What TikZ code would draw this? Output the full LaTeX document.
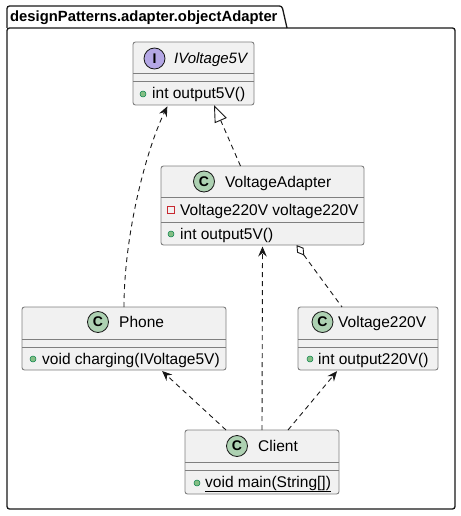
\documentclass[tikz,border=0pt]{standalone}
\usepackage{fontspec}
\setmainfont{Liberation Sans}
\usetikzlibrary{arrows.meta}
\definecolor{boxfill}{HTML}{F1F1F1}
\definecolor{boxline}{HTML}{7F7F7F}
\definecolor{spotC}{HTML}{ADD1B2}
\definecolor{spotI}{HTML}{B4A7E5}
\definecolor{pubfill}{HTML}{84BE84}
\definecolor{publine}{HTML}{038048}
\definecolor{privline}{HTML}{C82930}
\definecolor{edge}{HTML}{181818}
\begin{document}
\begin{tikzpicture}[x=1pt,y=-1pt,
  classbox/.style={draw=boxline, fill=boxfill, rounded corners=2.5, line width=0.9, anchor=north west, inner sep=0, outer sep=0},
  sepline/.style={draw=boxline, line width=0.9},
  spot/.style={circle, draw=edge, line width=0.8, minimum size=21, inner sep=0, font=\fontsize{14}{14}\selectfont\bfseries},
  pub/.style={circle, fill=pubfill, draw=publine, line width=0.5, minimum size=6, inner sep=0},
  priv/.style={rectangle, draw=privline, line width=0.9, minimum size=6.5, inner sep=0},
  lbl/.style={anchor=base west, inner sep=0, font=\fontsize{15.5}{15.5}\selectfont},
  dep/.style={draw=edge, line width=0.9, dash pattern=on 5 off 4},
  barb/.style={-{Stealth[length=10,width=8.5,inset=3.5]}, shorten >=1.5}
]
\useasboundingbox (0,0) rectangle (460,516);
% package
\draw[edge, line width=1.3, rounded corners=2.5] (7,28) -- (7,6) -- (282,6) -- (287,28);
\draw[edge, line width=1.3, rounded corners=2.5] (7,28) -- (455,28) -- (455,509) -- (7,509) -- cycle;
\node (pkg) [anchor=base west, inner sep=0, font=\fontsize{14.8}{15}\selectfont\bfseries] at (10,21.5) {designPatterns.adapter.objectAdapter};

% IVoltage5V
\node (iv) [classbox, minimum width=121, minimum height=63] at (133,42) {};
\draw[sepline] (133,73) -- (254,73);
\draw[sepline] (133,81) -- (254,81);
\node (ivspot) [spot, fill=spotI] at (154.5,58.5) {I};
\node (ivname) [lbl, font=\fontsize{15}{15}\selectfont\itshape] at (174,64) {IVoltage5V};
\node (ivdot) [pub] at (143,94) {};
\node (ivm) [lbl] at (152,99) {int output5V()};

% VoltageAdapter
\node (va) [classbox, minimum width=203, minimum height=79] at (161,166) {};
\draw[sepline] (161,197) -- (364,197);
\draw[sepline] (161,222) -- (364,222);
\node (vaspot) [spot, fill=spotC] at (204,181.5) {C};
\node (vaname) [lbl] at (225,187) {VoltageAdapter};
\node (vasq) [priv] at (171,210) {};
\node (vaf) [lbl] at (180,215) {Voltage220V voltage220V};
\node (vadot) [pub] at (171,234) {};
\node (vam) [lbl] at (180,239) {int output5V()};

% Phone
\node (phone) [classbox, minimum width=204, minimum height=63] at (22,307) {};
\draw[sepline] (22,339) -- (226,339);
\draw[sepline] (22,347) -- (226,347);
\node (phspot) [spot, fill=spotC] at (98,322) {C};
\node (phname) [lbl] at (119,327) {Phone};
\node (phdot) [pub] at (33,359) {};
\node (phm) [lbl] at (42,364) {void charging(IVoltage5V)};

% Voltage220V
\node (v220) [classbox, minimum width=140, minimum height=63] at (298,307) {};
\draw[sepline] (298,339) -- (438,339);
\draw[sepline] (298,347) -- (438,347);
\node (v2spot) [spot, fill=spotC] at (322.5,322) {C};
\node (v2name) [lbl] at (338,327) {Voltage220V};
\node (v2dot) [pub] at (310,359) {};
\node (v2m) [lbl] at (318,364) {int output220V()};

% Client
\node (client) [classbox, minimum width=154, minimum height=64] at (185,430) {};
\draw[sepline] (185,462) -- (339,462);
\draw[sepline] (185,470) -- (339,470);
\node (clspot) [spot, fill=spotC] at (237,446) {C};
\node (clname) [lbl] at (258,451) {Client};
\node (cldot) [pub] at (197,483) {};
\node (clm) [lbl] at (205,487) {\underline{void main(String[])}};

% connectors
\draw[dep, barb] (phone.north) .. controls (124,235) and (146,150) .. ([xshift=-25.5]iv.south);
\draw[dep, -{Triangle[open, length=17, width=13, fill=white]}] ([xshift=-22]va.north) -- ([xshift=20.5]iv.south);
\draw[dep, {Diamond[open, length=13, width=8, fill=white]}-] ([xshift=34]va.south) -- ([xshift=-26]v220.north);
\draw[dep, barb] (client.north) -- (va.south);
\draw[dep, barb] ([xshift=-36]client.north) -- ([xshift=37]phone.south);
\draw[dep, barb] ([xshift=26]client.north) -- ([xshift=-30]v220.south);
\end{tikzpicture}
\end{document}
